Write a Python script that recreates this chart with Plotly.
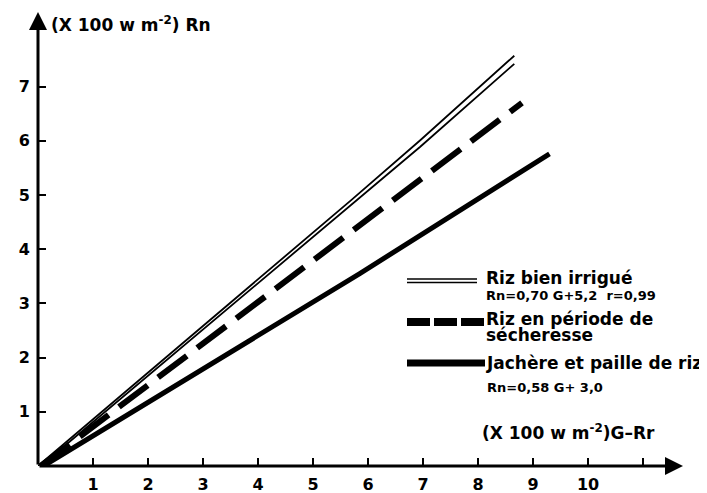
import plotly.graph_objects as go

# ---------------- data (units: x 100 W m-2) ----------------
irr_hi_x = [0.0, 5.70, 6.95, 8.66]
irr_hi_y = [0.0, 4.91, 6.01, 7.57]
irr_lo_x = [0.05, 5.79, 6.95, 8.66]
irr_lo_y = [0.0, 4.91, 5.89, 7.42]
sec_x = [0.05, 4.73, 8.80]
sec_y = [0.0, 3.57, 6.70]
jach_x = [0.10, 5.85, 9.30]
jach_y = [0.0, 3.55, 5.76]

x_ticks = [1, 2, 3, 4, 5, 6, 7, 8, 9, 10, 11]
x_ticktext = ["1", "2", "3", "4", "5", "6", "7", "8", "9", "10", ""]
y_ticks = [1, 2, 3, 4, 5, 6, 7]
y_ticktext = ["1", "2", "3", "4", "5", "6", "7"]

# ---------------- geometry ----------------
OFF = 8                      # default page body margin
X0, Y0 = 38, 466             # origin position on the page (px)
SX, SY = 55.0, 54.2          # px per unit
W, H = 707 - OFF, 493 - OFF
L = X0 - OFF
T = 2
B = H - (Y0 - OFF)
X_MAX = 12.0
R = W - L - int(X_MAX * SX)
Y_MAX = (H - T - B) / SY


def dx(px):
    return (px - X0) / SX


def dy(py):
    return (Y0 - py) / SY


FONT = "DejaVu Sans"
BLACK = "#000000"

fig = go.Figure()
fig.add_trace(go.Scatter(x=irr_hi_x, y=irr_hi_y, mode="lines",
                         line=dict(color=BLACK, width=1.8), showlegend=False))
fig.add_trace(go.Scatter(x=irr_lo_x, y=irr_lo_y, mode="lines",
                         line=dict(color=BLACK, width=1.8), showlegend=False))
fig.add_trace(go.Scatter(x=sec_x, y=sec_y, mode="lines",
                         line=dict(color=BLACK, width=6, dash="36px,13px"), showlegend=False))
fig.add_trace(go.Scatter(x=jach_x, y=jach_y, mode="lines",
                         line=dict(color=BLACK, width=5), showlegend=False))

shapes = []
# legend samples
shapes.append(dict(type="line", xref="x", yref="y", x0=dx(407), x1=dx(477), y0=dy(279), y1=dy(279),
                   line=dict(color=BLACK, width=1.6)))
shapes.append(dict(type="line", xref="x", yref="y", x0=dx(407), x1=dx(477), y0=dy(282.5), y1=dy(282.5),
                   line=dict(color=BLACK, width=1.6)))
shapes.append(dict(type="line", xref="x", yref="y", x0=dx(407), x1=dx(484), y0=dy(322), y1=dy(322),
                   line=dict(color=BLACK, width=8, dash="23px,4px")))
shapes.append(dict(type="line", xref="x", yref="y", x0=dx(407), x1=dx(485), y0=dy(363), y1=dy(363),
                   line=dict(color=BLACK, width=7)))

annotations = []
# axis arrows
annotations.append(dict(x=dx(683), y=0, ax=0, ay=0, xref="x", yref="y", axref="x", ayref="y",
                        showarrow=True, arrowhead=2, arrowsize=1.2, arrowwidth=3,
                        arrowcolor=BLACK, text="", standoff=0, startstandoff=0))
annotations.append(dict(x=0, y=dy(12), ax=0, ay=0, xref="x", yref="y", axref="x", ayref="y",
                        showarrow=True, arrowhead=2, arrowsize=1.2, arrowwidth=3,
                        arrowcolor=BLACK, text="", standoff=0, startstandoff=0))


def txt(px, py, s, size):
    annotations.append(dict(x=dx(px), y=dy(py), xref="x", yref="y", text="<b>" + s + "</b>",
                            showarrow=False, xanchor="left", yanchor="middle",
                            borderpad=0, borderwidth=0,
                            font=dict(family=FONT, size=size, color=BLACK)))


txt(51, 24, "(X 100 w m<sup>-2</sup>) Rn", 17)
txt(482, 432, "(X 100 w m<sup>-2</sup>)G–Rr", 17)
txt(486, 278, "Riz bien irrigué", 17)
txt(486, 295, "Rn=0,70 G+5,2  r=0,99", 13)
txt(486, 319, "Riz en période de", 17)
txt(486, 335, "sécheresse", 17)
txt(486, 363, "Jachère et paille de riz", 17)
txt(487, 387, "Rn=0,58 G+ 3,0", 13)

axis_common = dict(showgrid=False, zeroline=False, showline=False, ticks="inside",
                   ticklen=8, tickwidth=2, tickcolor=BLACK, automargin=False,
                   tickfont=dict(family=FONT, size=16, color=BLACK, weight="bold"))

fig.update_layout(
    width=W, height=H,
    margin=dict(l=L, r=R, t=T, b=B, pad=0, autoexpand=False),
    paper_bgcolor="white", plot_bgcolor="white",
    xaxis=dict(range=[0, X_MAX], tickvals=x_ticks, ticktext=x_ticktext,
               ticklabelstandoff=7, **axis_common),
    yaxis=dict(range=[0, Y_MAX], tickvals=y_ticks, ticktext=y_ticktext,
               ticklabelstandoff=7, **axis_common),
    shapes=shapes, annotations=annotations,
    showlegend=False,
)

fig.write_html("out.html")
